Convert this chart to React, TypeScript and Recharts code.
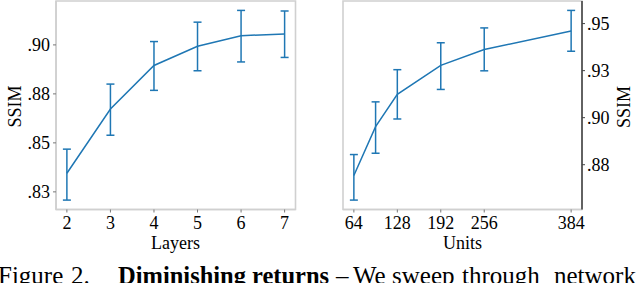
import React from 'react';
import { LineChart, Line, XAxis, YAxis, ErrorBar, ReferenceArea } from 'recharts';

// ---- Left panel: Layers ----
const layers = [2, 3, 4, 5, 6, 7];
const layerSsim = [0.8345, 0.8673, 0.8895, 0.8993, 0.9047, 0.9056];
const layerErrLow = [0.0137, 0.0134, 0.0127, 0.0125, 0.0134, 0.012];
const layerErrHigh = [0.0123, 0.0127, 0.0122, 0.0123, 0.0129, 0.0117];
const layerYTicks = [0.825, 0.85, 0.875, 0.9];
const layerYTickLabels = ['.83', '.85', '.88', '.90'];

// ---- Right panel: Units ----
const units = [64, 96, 128, 192, 256, 384];
const unitSsim = [0.8693, 0.8952, 0.9124, 0.9278, 0.9362, 0.9461];
const unitErrLow = [0.0131, 0.0141, 0.0131, 0.0128, 0.0113, 0.0108];
const unitErrHigh = [0.0111, 0.0132, 0.0131, 0.012, 0.0115, 0.0109];
const unitXTicks = [64, 128, 192, 256, 384];
const unitYTicks = [0.875, 0.9, 0.925, 0.95];
const unitYTickLabels = ['.88', '.90', '.93', '.95'];

const layerData = layers.map((x, i) => ({ x, ssim: layerSsim[i], err: [layerErrLow[i], layerErrHigh[i]] }));
const unitData = units.map((x, i) => ({ x, ssim: unitSsim[i], err: [unitErrLow[i], unitErrHigh[i]] }));

const FONT = '"Liberation Serif", "DejaVu Serif", serif';
const BLUE = '#1f77b4';
const FRAME = '#d0d0d0';
const tickStyle = { fill: '#000', fontFamily: FONT, fontSize: 18 };

const LX: [number, number] = [1.75, 7.25];
const LY: [number, number] = [0.816, 0.9224];
const RX: [number, number] = [48, 400];
const RY: [number, number] = [0.8512, 0.962];

export default function App() {
  return (
    <div style={{ position: 'absolute', left: 0, top: 0, width: 640, height: 283, background: '#fff', overflow: 'hidden' }}>
      <div style={{ position: 'absolute', left: 0, top: 0 }}>
        <LineChart width={300} height={283} data={layerData} margin={{ top: 1, right: 4.5, bottom: 0, left: 0 }}>
          <ReferenceArea x1={LX[0]} x2={LX[1]} y1={LY[0]} y2={LY[1]} fill="none" stroke={FRAME} strokeWidth={1.6} ifOverflow="visible" />
          <XAxis
            dataKey="x"
            type="number"
            domain={LX}
            allowDataOverflow
            ticks={layers}
            height={73.5}
            tick={tickStyle}
            tickSize={3}
            tickMargin={4}
            axisLine={{ stroke: FRAME, strokeWidth: 1.6 }}
            tickLine={{ stroke: '#777' }}
          />
          <YAxis
            type="number"
            domain={LY}
            allowDataOverflow
            ticks={layerYTicks}
            tickFormatter={(v: number) => layerYTickLabels[layerYTicks.indexOf(v)]}
            width={56}
            tick={tickStyle}
            tickSize={3}
            tickMargin={3}
            axisLine={{ stroke: FRAME, strokeWidth: 1.6 }}
            tickLine={{ stroke: '#777' }}
          />
          <Line dataKey="ssim" stroke={BLUE} strokeWidth={1.5} dot={false} isAnimationActive={false}>
            <ErrorBar dataKey="err" direction="y" width={4} stroke={BLUE} strokeWidth={1.5} isAnimationActive={false} />
          </Line>
        </LineChart>
      </div>
      <div style={{ position: 'absolute', left: 300, top: 0 }}>
        <LineChart width={340} height={283} data={unitData} margin={{ top: 1, right: 0, bottom: 0, left: 43 }}>
          <ReferenceArea x1={RX[0]} x2={RX[1]} y1={RY[0]} y2={RY[1]} fill="none" stroke={FRAME} strokeWidth={1.6} ifOverflow="visible" />
          <XAxis
            dataKey="x"
            type="number"
            domain={RX}
            allowDataOverflow
            ticks={unitXTicks}
            height={73.5}
            tick={tickStyle}
            tickSize={3}
            tickMargin={4}
            axisLine={{ stroke: FRAME, strokeWidth: 1.6 }}
            tickLine={{ stroke: '#777' }}
          />
          <YAxis
            type="number"
            orientation="right"
            domain={RY}
            allowDataOverflow
            ticks={unitYTicks}
            tickFormatter={(v: number) => unitYTickLabels[unitYTicks.indexOf(v)]}
            width={58}
            tick={tickStyle}
            tickSize={3}
            tickMargin={2}
            axisLine={{ stroke: '#444', strokeWidth: 1.6 }}
            tickLine={{ stroke: '#444' }}
          />
          <Line dataKey="ssim" stroke={BLUE} strokeWidth={1.5} dot={false} isAnimationActive={false}>
            <ErrorBar dataKey="err" direction="y" width={4} stroke={BLUE} strokeWidth={1.5} isAnimationActive={false} />
          </Line>
        </LineChart>
      </div>
      <svg width={640} height={283} style={{ position: 'absolute', left: 0, top: 0, pointerEvents: 'none' }}>
        <g fontFamily={FONT} fontSize={18} fill="#000">
          <text x={14.5} y={106.5} transform="rotate(-90, 14.5, 106.5)" textAnchor="middle" dominantBaseline="central">SSIM</text>
          <text x={624} y={107} transform="rotate(-90, 624, 107)" textAnchor="middle" dominantBaseline="central">SSIM</text>
          <text x={175.5} y={249} textAnchor="middle">Layers</text>
          <text x={462.5} y={249} textAnchor="middle">Units</text>
        </g>
        <g fontFamily={FONT} fontSize={25} fill="#000">
          <text x={-2} y={284}>Figure</text>
          <text x={71} y={284}>2.</text>
          <text x={118} y={284} fontWeight="bold" fontSize={24.5}>Diminishing</text>
          <text x={252} y={284} fontWeight="bold" fontSize={24.5}>returns</text>
          <text x={336} y={284}>–</text>
          <text x={353} y={284}>We</text>
          <text x={392} y={284}>sweep</text>
          <text x={462} y={284}>through</text>
          <text x={554} y={284}>network</text>
        </g>
      </svg>
    </div>
  );
}
